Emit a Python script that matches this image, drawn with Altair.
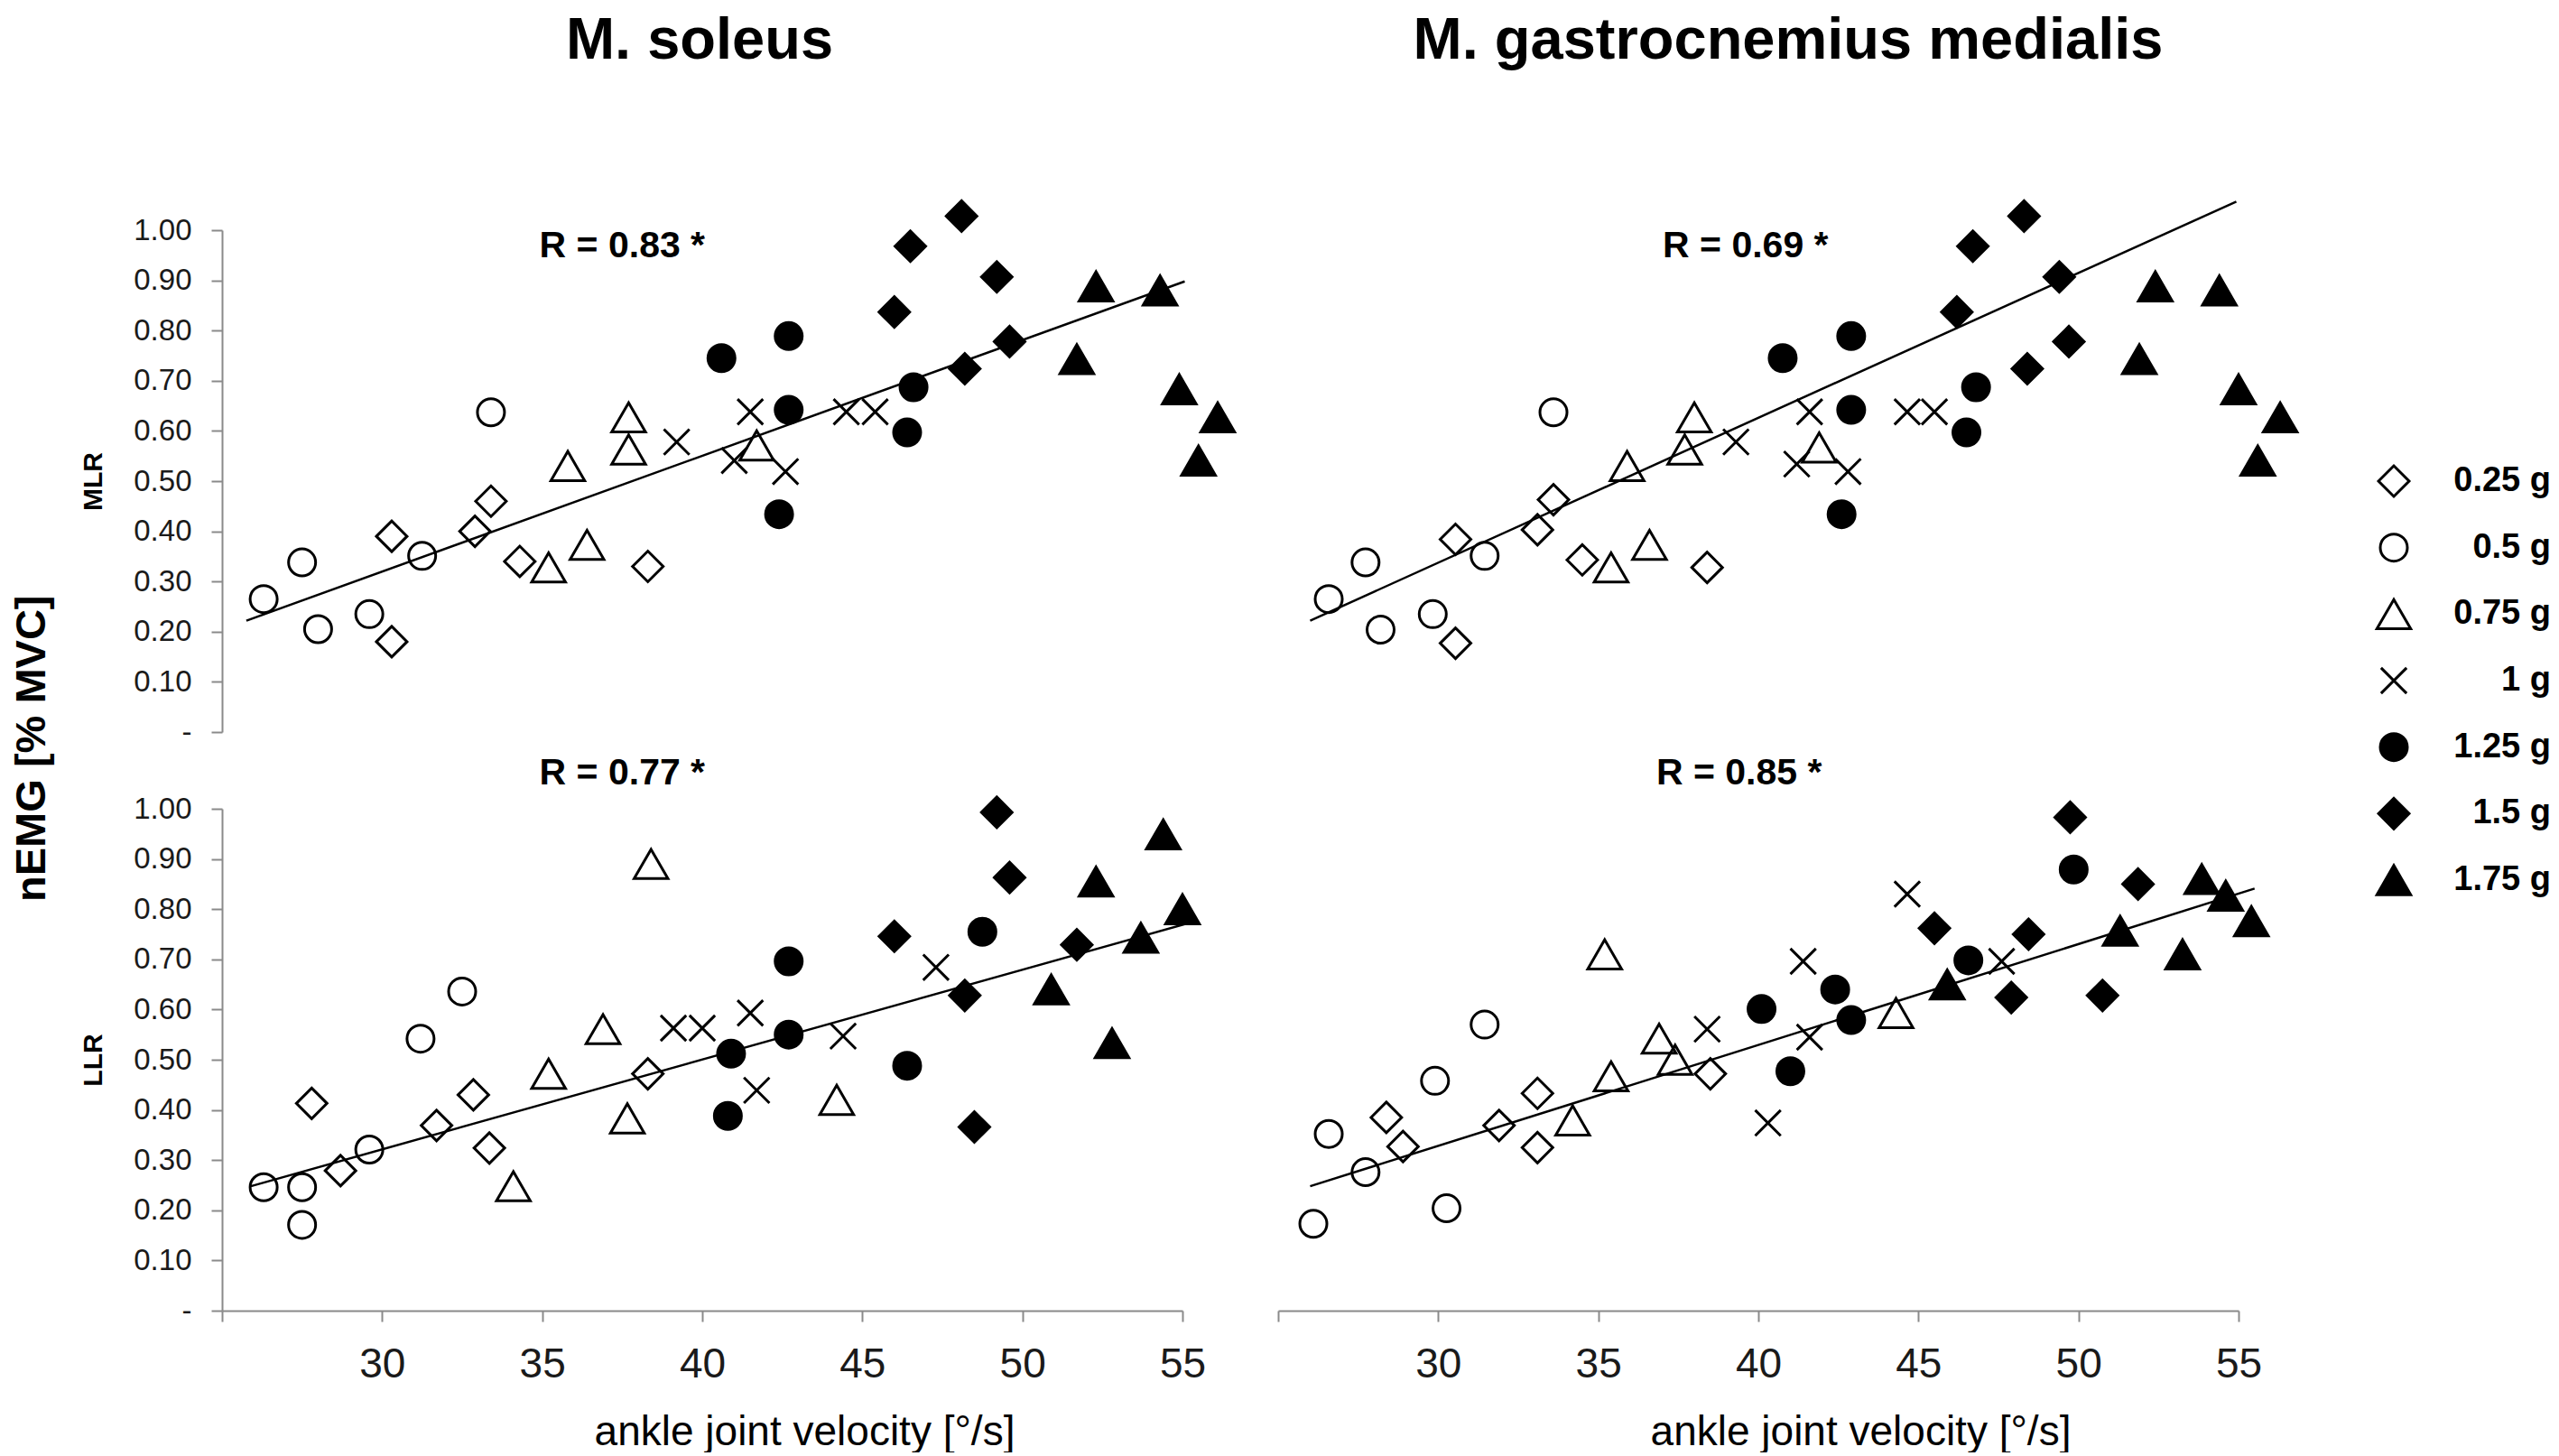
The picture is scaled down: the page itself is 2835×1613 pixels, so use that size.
import altair as alt
import pandas as pd

FONT = "Liberation Sans, Arial, Helvetica, sans-serif"

# ---------------- data ----------------
loads = ["0.25 g", "0.5 g", "0.75 g", "1 g", "1.25 g", "1.5 g", "1.75 g"]
n_per_load = 6

# M. soleus, MLR  (ankle joint velocity [deg/s], nEMG)
sol_mlr_x = [30.3, 30.3, 33.4, 32.9, 34.3, 38.3,
             26.3, 27.5, 28.0, 29.6, 31.25, 33.4,
             35.8, 37.7, 37.7, 35.2, 36.4, 41.7,
             39.2, 41.5, 41.0, 42.6, 44.5, 45.4,
             40.6, 42.7, 42.7, 42.4, 46.6, 46.4,
             46.0, 46.5, 48.1, 49.2, 49.6, 48.2,
             52.3, 51.7, 54.3, 54.9, 56.1, 55.5]
sol_mlr_y = [0.39, 0.18, 0.46, 0.40, 0.34, 0.33,
             0.265, 0.338, 0.205, 0.235, 0.351, 0.637,
             0.53, 0.627, 0.563, 0.328, 0.373, 0.571,
             0.578, 0.638, 0.541, 0.519, 0.638, 0.638,
             0.745, 0.789, 0.642, 0.434, 0.687, 0.597,
             0.837, 0.968, 1.028, 0.907, 0.778, 0.724,
             0.888, 0.743, 0.88, 0.683, 0.627, 0.541]

# M. soleus, LLR
sol_llr_x = [27.8, 28.7, 31.7, 32.85, 33.35, 38.3,
             26.3, 27.5, 27.5, 29.6, 31.2, 32.5,
             38.4, 36.9, 35.2, 37.66, 34.1, 44.2,
             39.1, 40.0, 41.5, 41.7, 44.4, 47.3,
             40.9, 40.8, 42.7, 42.7, 46.4, 48.75,
             49.2, 49.6, 46.0, 48.2, 48.5, 51.7,
             54.4, 52.3, 55.0, 53.7, 50.9, 52.8]
sol_llr_y = [0.413, 0.279, 0.369, 0.43, 0.324, 0.472,
             0.246, 0.246, 0.171, 0.321, 0.542, 0.636,
             0.89, 0.561, 0.472, 0.383, 0.248, 0.42,
             0.563, 0.563, 0.593, 0.439, 0.547, 0.684,
             0.512, 0.388, 0.696, 0.55, 0.488, 0.755,
             0.993, 0.863, 0.746, 0.628, 0.366, 0.729,
             0.949, 0.855, 0.8, 0.743, 0.64, 0.533]

# M. gastrocnemius medialis, MLR
gm_mlr_x = [30.54, 30.54, 33.6, 33.1, 34.5, 38.4,
            26.58, 27.73, 28.2, 29.83, 31.45, 33.6,
            35.9, 38.0, 37.7, 35.4, 36.6, 41.9,
            39.3, 41.6, 41.2, 42.8, 44.65, 45.5,
            40.76, 42.9, 42.9, 42.6, 46.8, 46.5,
            46.2, 46.7, 48.3, 49.4, 49.7, 48.4,
            52.4, 51.9, 54.4, 55.0, 56.3, 55.6]
gm_mlr_y = [0.384, 0.177, 0.463, 0.403, 0.343, 0.328,
            0.265, 0.338, 0.204, 0.235, 0.351, 0.637,
            0.53, 0.627, 0.563, 0.328, 0.373, 0.567,
            0.578, 0.638, 0.534, 0.519, 0.638, 0.638,
            0.745, 0.789, 0.642, 0.434, 0.687, 0.597,
            0.837, 0.968, 1.028, 0.907, 0.778, 0.724,
            0.888, 0.743, 0.88, 0.683, 0.627, 0.541]

# M. gastrocnemius medialis, LLR
gm_llr_x = [28.38, 28.9, 31.9, 33.1, 33.1, 38.5,
            26.58, 26.1, 27.73, 29.9, 30.26, 31.45,
            35.2, 36.9, 37.4, 35.4, 34.2, 44.3,
            38.4, 40.3, 41.4, 41.6, 44.65, 47.6,
            40.1, 41.0, 42.4, 42.9, 46.56, 49.85,
            49.74, 51.86, 45.5, 48.44, 47.9, 50.75,
            53.85, 54.6, 55.4, 51.3, 53.25, 45.9]
gm_llr_y = [0.385, 0.327, 0.369, 0.433, 0.325, 0.472,
            0.352, 0.173, 0.276, 0.458, 0.204, 0.57,
            0.71, 0.542, 0.5, 0.467, 0.379, 0.593,
            0.561, 0.374, 0.696, 0.545, 0.83, 0.696,
            0.601, 0.477, 0.64, 0.579, 0.698, 0.879,
            0.983, 0.85, 0.762, 0.75, 0.624, 0.628,
            0.86, 0.827, 0.776, 0.757, 0.71, 0.65]

# linear trend lines (end points)
sol_mlr_trend_x = [25.76, 55.07]
sol_mlr_trend_y = [0.222, 0.898]
sol_llr_trend_x = [25.9, 55.4]
sol_llr_trend_y = [0.248, 0.776]
gm_mlr_trend_x = [26.0, 54.93]
gm_mlr_trend_y = [0.222, 1.057]
gm_llr_trend_x = [26.0, 55.5]
gm_llr_trend_y = [0.248, 0.841]

# correlation annotations
r_labels = ["R = 0.83 *", "R = 0.77 *", "R = 0.69 *", "R = 0.85 *"]
r_x = [37.5, 37.5, 39.6, 39.4]
r_y = [0.968, 1.07, 0.968, 1.07]

muscles = ["M. soleus", "M. gastrocnemius medialis"]
reflexes = ["MLR", "LLR"]
y_title = "nEMG [% MVC]"
x_title = "ankle joint velocity [°/s]"
x_ticks = [25, 30, 35, 40, 45, 50, 55]
y_ticks = [0, 0.1, 0.2, 0.3, 0.4, 0.5, 0.6, 0.7, 0.8, 0.9, 1.0]

# ---------------- styles ----------------
X_PATH = "M-1,-1L1,1M-1,1L1,-1"
SHAPE = dict(zip(loads, ["diamond", "circle", "triangle-up", X_PATH,
                         "circle", "diamond", "triangle-up"]))
FILL = dict(zip(loads, ["transparent"] * 4 + ["black"] * 3))
SIZE = dict(zip(loads, [1150, 900, 1400, 800, 900, 1150, 1400]))

W, H = 1064, 556
XS = alt.Scale(domain=[25, 55], nice=False, zero=False)
YS = alt.Scale(domain=[0, 1], nice=False, zero=False)
AX_GRAY = "#8a8a8a"
LBL = "#1a1a1a"


def y_axis(title):
    return alt.Axis(values=y_ticks,
                    labelExpr="datum.value == 0 ? '-\u00a0\u00a0' : format(datum.value, '.2f')",
                    labelFont=FONT, labelFontSize=33, labelColor=LBL,
                    labelPadding=22, labelFlush=False, labelOverlap=False,
                    tickSize=12, tickWidth=2, tickColor=AX_GRAY,
                    domainColor=AX_GRAY, domainWidth=2, grid=False,
                    title=title, titleFont=FONT, titleFontSize=30,
                    titleFontWeight="bold", titleColor="black",
                    titleAngle=270, titleAlign="center", titleBaseline="middle",
                    titleX=-143, titleY=H / 2)


def x_axis():
    return alt.Axis(values=x_ticks,
                    labelExpr="datum.value == 25 ? '' : datum.label",
                    labelFont=FONT, labelFontSize=46, labelColor=LBL,
                    labelPadding=25, labelFlush=False, labelOverlap=False,
                    tickSize=12, tickWidth=2, tickColor=AX_GRAY,
                    domainColor=AX_GRAY, domainWidth=2, grid=False,
                    title=x_title, titleFont=FONT, titleFontSize=46,
                    titleFontWeight="normal", titleColor="black",
                    titleAlign="center", titleBaseline="alphabetic",
                    titleX=645, titleY=148)


def panel(xs, ys, tx, ty, k, xax, yax):
    df = pd.DataFrame({"v": xs, "e": ys,
                       "load": [ld for ld in loads for _ in range(n_per_load)]})
    df["shp"] = df["load"].map(SHAPE)
    df["fil"] = df["load"].map(FILL)
    df["sz"] = df["load"].map(SIZE)
    xenc = alt.X("v:Q", scale=XS, axis=xax)
    yenc = alt.Y("e:Q", scale=YS, axis=yax)
    pts = alt.Chart(df).mark_point(opacity=1, stroke="black", strokeWidth=3).encode(
        x=xenc, y=yenc,
        shape=alt.Shape("shp:N", scale=None),
        fill=alt.Fill("fil:N", scale=None),
        size=alt.Size("sz:Q", scale=None))
    ln = alt.Chart(pd.DataFrame({"v": tx, "e": ty})).mark_line(
        color="black", strokeWidth=2.5).encode(x=xenc, y=yenc)
    rt = alt.Chart(pd.DataFrame({"v": [r_x[k]], "e": [r_y[k]], "t": [r_labels[k]]})).mark_text(
        font=FONT, fontSize=41, fontWeight="bold", color="black",
        align="center", baseline="middle").encode(x=xenc, y=yenc, text="t:N")
    return alt.layer(pts, ln, rt).properties(width=W, height=H)


def col_title(text, dx):
    return alt.TitleParams(text, font=FONT, fontSize=65, fontWeight="bold",
                           color="black", anchor="middle", frame="group",
                           baseline="top", offset=137, dx=dx)


tl = panel(sol_mlr_x, sol_mlr_y, sol_mlr_trend_x, sol_mlr_trend_y, 0,
           None, y_axis(reflexes[0])).properties(title=col_title(muscles[0], -3))
bl = panel(sol_llr_x, sol_llr_y, sol_llr_trend_x, sol_llr_trend_y, 1,
           x_axis(), y_axis(reflexes[1]))
tr = panel(gm_mlr_x, gm_mlr_y, gm_mlr_trend_x, gm_mlr_trend_y, 2,
           None, None).properties(title=col_title(muscles[1], 33))
br = panel(gm_llr_x, gm_llr_y, gm_llr_trend_x, gm_llr_trend_y, 3,
           x_axis(), None)

# manual legend
leg_df = pd.DataFrame({"load": loads, "rank": list(range(len(loads)))})
leg_df["shp"] = leg_df["load"].map(SHAPE)
leg_df["fil"] = leg_df["load"].map(FILL)
leg_df["sz"] = leg_df["load"].map(SIZE)
ly = alt.Y("rank:Q", scale=alt.Scale(domain=[0, 6], range=[278, 720]), axis=None)
leg_pts = alt.Chart(leg_df).mark_point(opacity=1, stroke="black", strokeWidth=3).encode(
    x=alt.value(66), y=ly,
    shape=alt.Shape("shp:N", scale=None),
    fill=alt.Fill("fil:N", scale=None),
    size=alt.Size("sz:Q", scale=None))
leg_txt = alt.Chart(leg_df).mark_text(font=FONT, fontSize=38, fontWeight="bold",
                                      color="black", align="right",
                                      baseline="middle").encode(
    x=alt.value(240), y=ly, text="load:N")
legend = alt.layer(leg_pts, leg_txt).properties(width=240, height=H)

chart = alt.concat(
    tl, tr, legend, bl, br,
    columns=3,
    spacing={"row": 85, "column": 106},
    bounds="flush",
    title=alt.TitleParams(y_title, orient="left", font=FONT, fontSize=47,
                          fontWeight="bold", color="black", anchor="middle",
                          frame="bounds", offset=28, dx=-18),
).properties(padding={"left": 3, "top": 5, "right": 0, "bottom": 0}
).configure_view(stroke=None)

chart.save("out.html", embed_options={"renderer": "svg", "actions": False})
